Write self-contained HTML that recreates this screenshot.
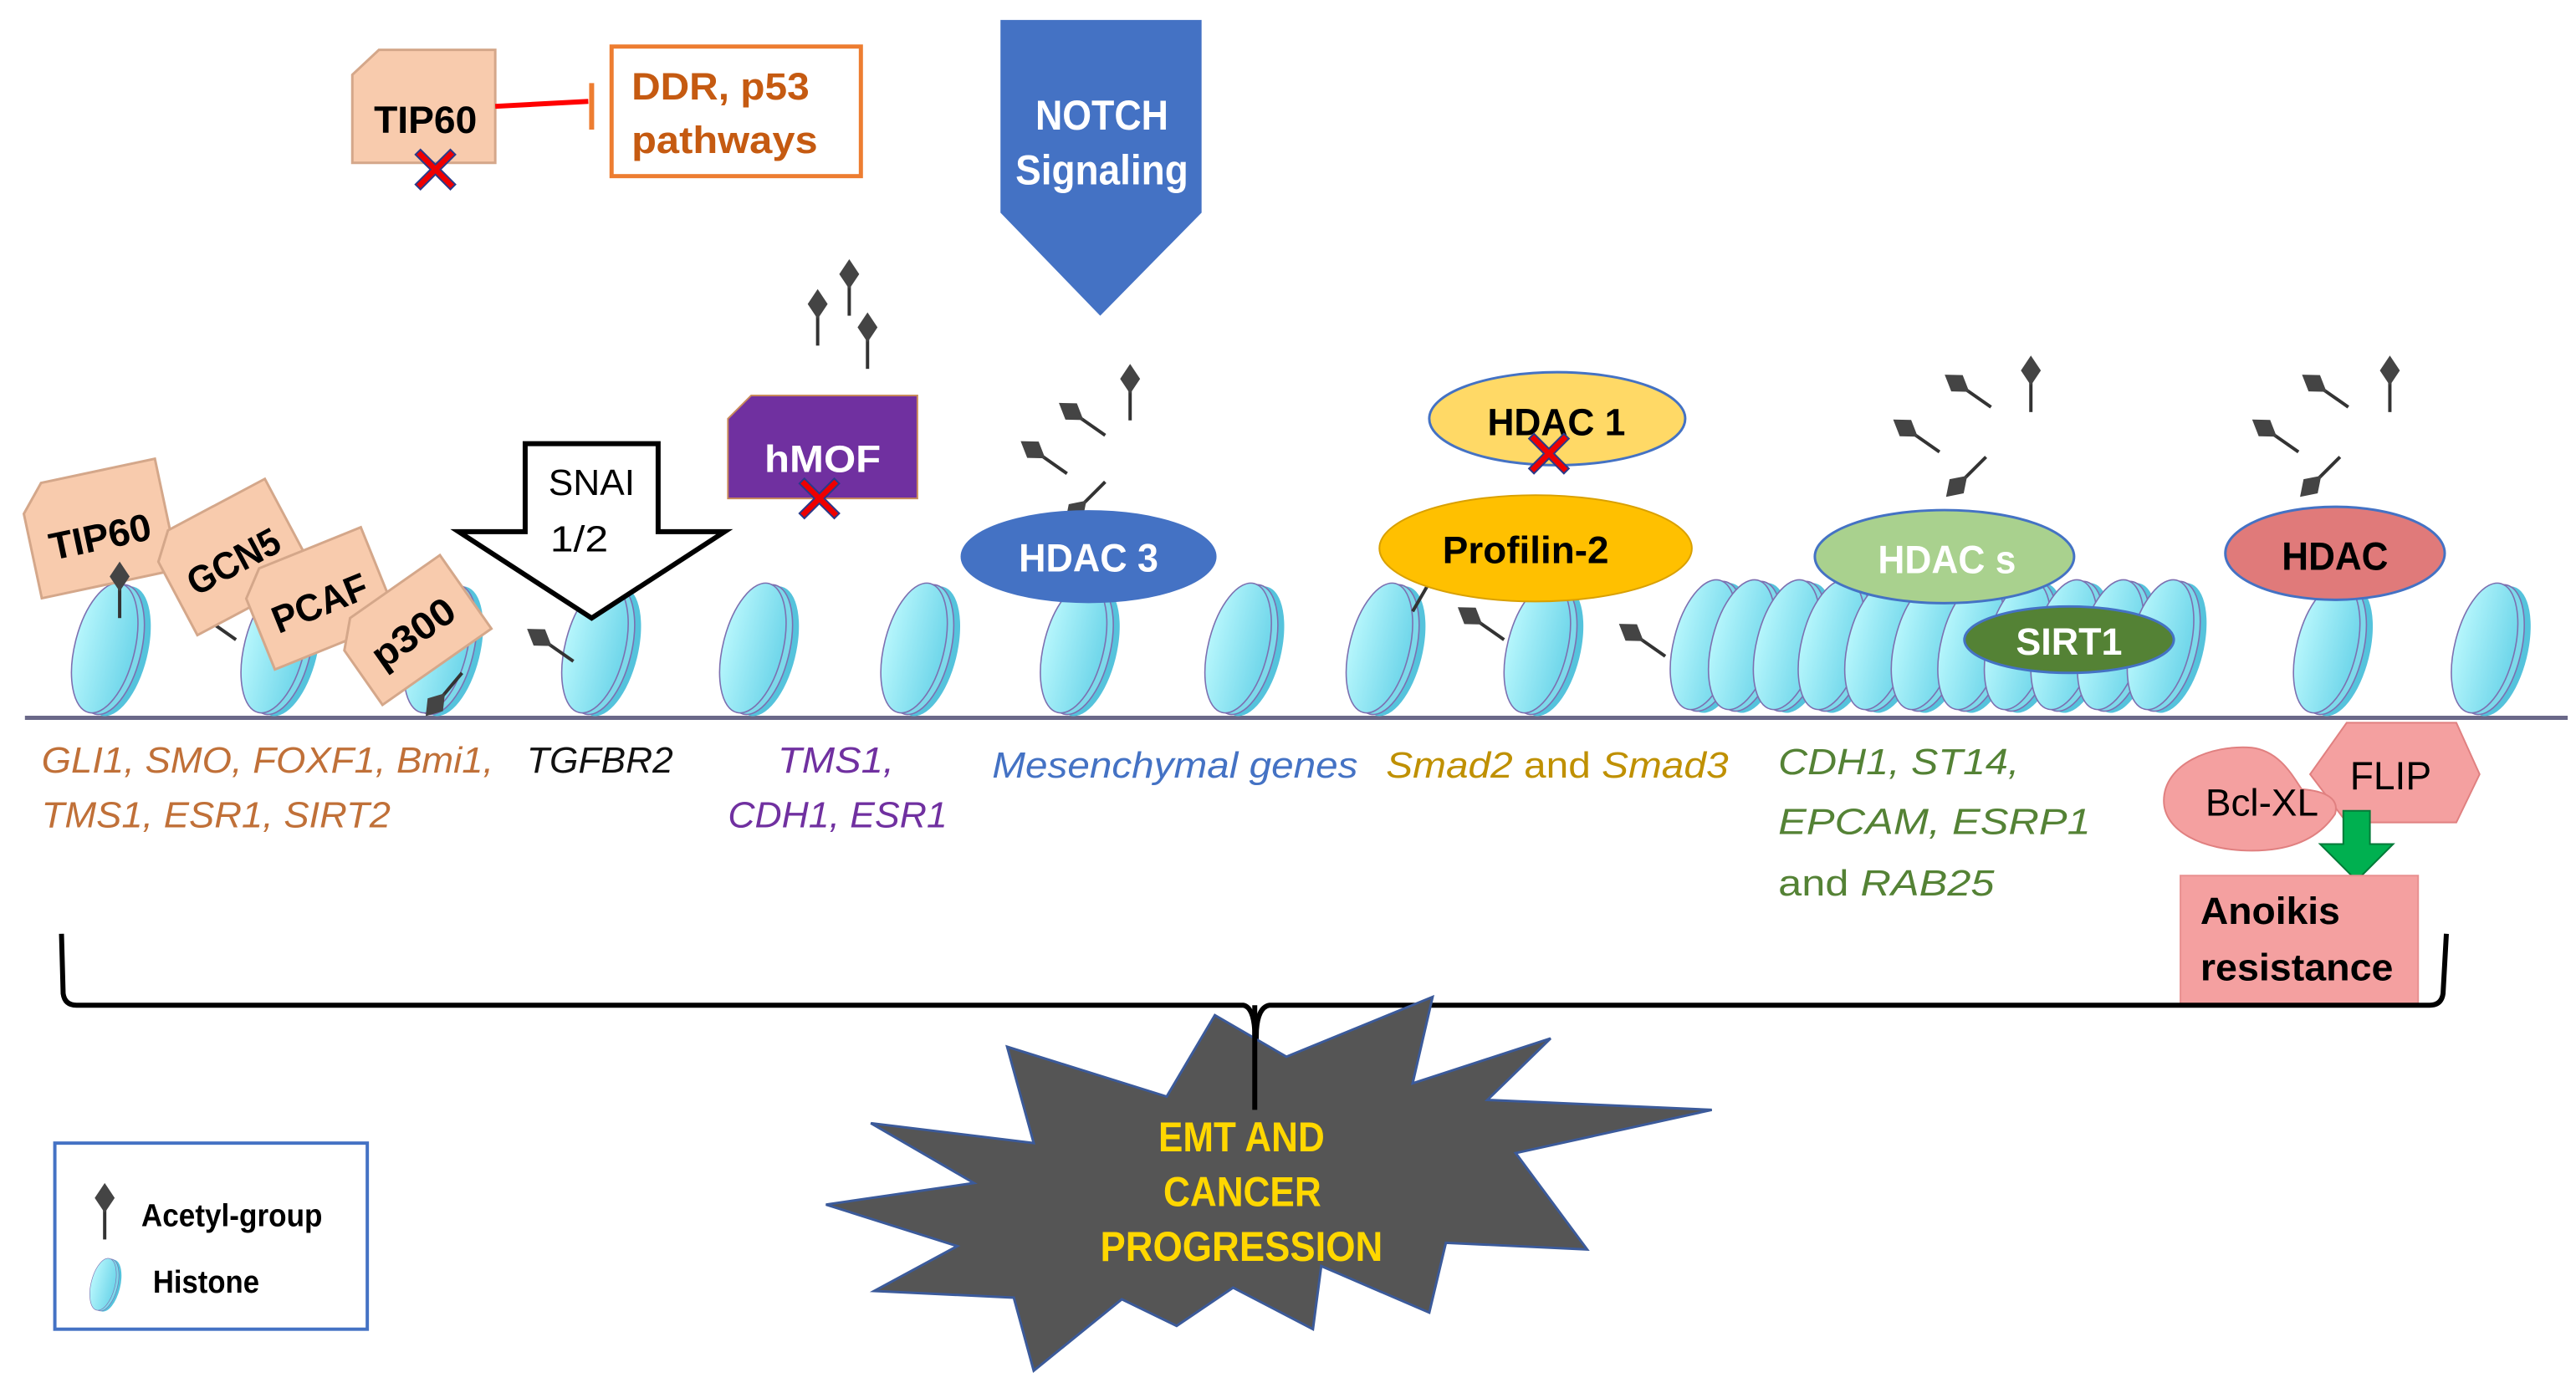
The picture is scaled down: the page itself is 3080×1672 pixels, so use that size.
<!DOCTYPE html>
<html><head><meta charset="utf-8"><style>
html,body{margin:0;padding:0;background:#fff}
svg{display:block}
text{font-family:"Liberation Sans",sans-serif}
.b{font-weight:bold}
.it{font-style:italic}
</style></head><body>
<svg width="3080" height="1672" viewBox="0 0 1550 841.4" xmlns="http://www.w3.org/2000/svg">
<defs>
<linearGradient id="hg" x1="0" y1="0" x2="1" y2="0">
<stop offset="0" stop-color="#b6f6fc"/><stop offset="1" stop-color="#6fd6ea"/></linearGradient>
<g id="hist">
<g transform="rotate(14)">
<ellipse cx="8" cy="0" rx="18" ry="40" fill="#55c3dc"/>
<ellipse cx="4" cy="0" rx="18" ry="40" fill="#7dd9ea" stroke="#7c6fb0" stroke-width="0.8"/>
<ellipse cx="0" cy="0" rx="18" ry="40" fill="url(#hg)" stroke="#7c6fb0" stroke-width="0.8"/>
</g></g>
<g id="ac">
<line x1="0" y1="0" x2="0" y2="-20" stroke="#333" stroke-width="2"/>
<path d="M0,-34 L6,-25 L0,-16 L-6,-25Z" fill="#444"/>
</g>
<g id="xx">
<path d="M-12,-9 L-9,-12 L0,-3 L9,-12 L12,-9 L3,0 L12,9 L9,12 L0,3 L-9,12 L-12,9 L-3,0Z" fill="#e00" stroke="#2a3a8a" stroke-width="1"/>
</g>
</defs>

<path d="M15,432 L1545,432" stroke="#6a6888" stroke-width="2.5" fill="none"/>

<use href="#hist" x="63" y="390"/>
<use href="#hist" x="165" y="390"/>
<use href="#hist" x="263" y="390"/>
<use href="#hist" x="358" y="390"/>
<use href="#hist" x="453" y="390"/>
<use href="#hist" x="550" y="390"/>
<use href="#hist" x="646" y="390"/>
<use href="#hist" x="745" y="390"/>
<use href="#hist" x="830" y="390"/>
<use href="#hist" x="925" y="390"/>
<use href="#hist" x="1025" y="388"/>
<use href="#hist" x="1048" y="388"/>
<use href="#hist" x="1075" y="388"/>
<use href="#hist" x="1102" y="388"/>
<use href="#hist" x="1130" y="388"/>
<use href="#hist" x="1158" y="388"/>
<use href="#hist" x="1186" y="388"/>
<use href="#hist" x="1214" y="388"/>
<use href="#hist" x="1242" y="388"/>
<use href="#hist" x="1270" y="388"/>
<use href="#hist" x="1300" y="388"/>
<use href="#hist" x="1400" y="390"/>
<use href="#hist" x="1495" y="390"/>

<path d="M228,30 L298,30 L298,98 L212,98 L212,45Z" fill="#f8cbad" stroke="#d4a78a" stroke-width="1.5"/>
<text x="225" y="80" font-size="23" class="b" textLength="62" lengthAdjust="spacingAndGlyphs">TIP60</text>
<use href="#xx" x="262" y="102"/>
<line x1="298" y1="64" x2="354" y2="61" stroke="#f00" stroke-width="3"/>
<line x1="356" y1="50" x2="356" y2="78" stroke="#ed7d31" stroke-width="3"/>
<rect x="368" y="28" width="150" height="78" fill="#fff" stroke="#ed7d31" stroke-width="2.5"/>
<text x="380" y="60" font-size="23" class="b" fill="#c55a11" textLength="107" lengthAdjust="spacingAndGlyphs">DDR, p53</text>
<text x="380" y="92" font-size="23" class="b" fill="#c55a11" textLength="112" lengthAdjust="spacingAndGlyphs">pathways</text>

<path d="M602,12 L723,12 L723,128 L662,190 L602,128Z" fill="#4472c4"/>
<text x="623" y="78" font-size="25" class="b" fill="#fff" textLength="80" lengthAdjust="spacingAndGlyphs">NOTCH</text>
<text x="611" y="111" font-size="25" class="b" fill="#fff" textLength="104" lengthAdjust="spacingAndGlyphs">Signaling</text>

<use href="#ac" x="492" y="208"/>
<use href="#ac" x="511" y="190"/>
<use href="#ac" x="522" y="222"/>
<use href="#ac" x="680" y="253" />
<use href="#ac" transform="translate(665,262) rotate(-55)"/>
<use href="#ac" transform="translate(642,285) rotate(-55)"/>
<use href="#ac" transform="translate(665,290) rotate(-135)"/>
<use href="#ac" x="1222" y="248"/>
<use href="#ac" transform="translate(1198,245) rotate(-55)"/>
<use href="#ac" transform="translate(1167,272) rotate(-55)"/>
<use href="#ac" transform="translate(1195,275) rotate(-135)"/>
<use href="#ac" x="1438" y="248"/>
<use href="#ac" transform="translate(1413,245) rotate(-55)"/>
<use href="#ac" transform="translate(1383,272) rotate(-55)"/>
<use href="#ac" transform="translate(1408,275) rotate(-135)"/>
<use href="#ac" transform="translate(142,385) rotate(-55)"/>
<use href="#ac" transform="translate(345,398) rotate(-55)"/>
<use href="#ac" transform="translate(278,405) rotate(-140)"/>
<use href="#ac" transform="translate(905,385) rotate(-55)"/>
<use href="#ac" transform="translate(1002,395) rotate(-55)"/>
<use href="#ac" transform="translate(850,368) rotate(30)"/>

<g transform="translate(60,322) rotate(-12)">
<path d="M-28,-38 L42,-38 L42,30 L-42,30 L-42,-22Z" fill="#f8cbad" stroke="#d4a78a" stroke-width="1.5"/>
<text x="-31" y="9" font-size="23" class="b" textLength="62" lengthAdjust="spacingAndGlyphs">TIP60</text></g>
<g transform="translate(140,337) rotate(-28)">
<path d="M-26,-34 L40,-34 L40,30 L-40,30 L-40,-20Z" fill="#f8cbad" stroke="#d4a78a" stroke-width="1.5"/>
<text x="-30" y="9" font-size="23" class="b" textLength="60" lengthAdjust="spacingAndGlyphs">GCN5</text></g>
<g transform="translate(192,362) rotate(-22)">
<path d="M-26,-32 L40,-32 L40,28 L-40,28 L-40,-18Z" fill="#f8cbad" stroke="#d4a78a" stroke-width="1.5"/>
<text x="-30" y="9" font-size="23" class="b" textLength="60" lengthAdjust="spacingAndGlyphs">PCAF</text></g>
<g transform="translate(248,380) rotate(-35)">
<path d="M-26,-28 L40,-28 L40,26 L-40,26 L-40,-14Z" fill="#f8cbad" stroke="#d4a78a" stroke-width="1.5"/>
<text x="-28" y="9" font-size="23" class="b" textLength="56" lengthAdjust="spacingAndGlyphs">p300</text></g>
<use href="#ac" x="72" y="372"/>

<path d="M316,267 L396,267 L396,320 L436,320 L356,372 L276,320 L316,320Z" fill="#fff" stroke="#000" stroke-width="3"/>
<text x="330" y="298" font-size="22" textLength="52" lengthAdjust="spacingAndGlyphs">SNAI</text>
<text x="331" y="332" font-size="22" textLength="35" lengthAdjust="spacingAndGlyphs">1/2</text>

<path d="M452,238 L552,238 L552,300 L438,300 L438,252Z" fill="#7030a0" stroke="#c98a5a" stroke-width="1"/>
<text x="460" y="284" font-size="23" class="b" fill="#fff" textLength="70" lengthAdjust="spacingAndGlyphs">hMOF</text>
<use href="#xx" x="493" y="300"/>

<ellipse cx="655" cy="335" rx="77" ry="28" fill="#4472c4"/>
<text x="613" y="344" font-size="24" class="b" fill="#fff" textLength="84" lengthAdjust="spacingAndGlyphs">HDAC 3</text>
<ellipse cx="924" cy="330" rx="94" ry="32" fill="#ffc000" stroke="#d9a000" stroke-width="1"/>
<text x="868" y="339" font-size="23" class="b" textLength="100" lengthAdjust="spacingAndGlyphs">Profilin-2</text>
<ellipse cx="937" cy="252" rx="77" ry="28" fill="#ffd966" stroke="#4472c4" stroke-width="1.5"/>
<text x="895" y="262" font-size="23" class="b" textLength="83" lengthAdjust="spacingAndGlyphs">HDAC 1</text>
<use href="#xx" x="932" y="273"/>
<ellipse cx="1170" cy="335" rx="78" ry="28" fill="#a9d18e" stroke="#4472c4" stroke-width="1.5"/>
<text x="1130" y="345" font-size="24" class="b" fill="#fff" textLength="83" lengthAdjust="spacingAndGlyphs">HDAC s</text>
<ellipse cx="1245" cy="385" rx="63" ry="20" fill="#548235" stroke="#4472c4" stroke-width="1.5"/>
<text x="1213" y="394" font-size="23" class="b" fill="#fff" textLength="64" lengthAdjust="spacingAndGlyphs">SIRT1</text>
<ellipse cx="1405" cy="333" rx="66" ry="28" fill="#e07a7a" stroke="#4472c4" stroke-width="1.5"/>
<text x="1373" y="343" font-size="24" class="b" textLength="64" lengthAdjust="spacingAndGlyphs">HDAC</text>

<g font-size="22" class="it">
<text x="25" y="465" fill="#c07038" textLength="272" lengthAdjust="spacingAndGlyphs">GLI1, SMO, FOXF1, Bmi1,</text>
<text x="25" y="498" fill="#c07038" textLength="210" lengthAdjust="spacingAndGlyphs">TMS1, ESR1, SIRT2</text>
<text x="317" y="465" fill="#111" textLength="88" lengthAdjust="spacingAndGlyphs">TGFBR2</text>
<text x="468" y="465" fill="#7030a0" textLength="70" lengthAdjust="spacingAndGlyphs">TMS1,</text>
<text x="438" y="498" fill="#7030a0" textLength="132" lengthAdjust="spacingAndGlyphs">CDH1, ESR1</text>
<text x="597" y="468" fill="#4472c4" textLength="220" lengthAdjust="spacingAndGlyphs">Mesenchymal genes</text>
<text x="834" y="468" fill="#bf9000" textLength="206" lengthAdjust="spacingAndGlyphs">Smad2 <tspan font-style="normal">and</tspan> Smad3</text>
<text x="1070" y="466" fill="#548235" textLength="145" lengthAdjust="spacingAndGlyphs">CDH1, ST14,</text>
<text x="1070" y="502" fill="#548235" textLength="188" lengthAdjust="spacingAndGlyphs">EPCAM, ESRP1</text>
<text x="1070" y="539" fill="#548235" textLength="130" lengthAdjust="spacingAndGlyphs"><tspan font-style="normal">and</tspan> RAB25</text>
</g>

<path d="M1412,435 L1478,435 L1492,466 L1478,495 L1412,495 L1390,466Z" fill="#f4a0a0" stroke="#e08080" stroke-width="1"/>
<text x="1414" y="475" font-size="24" textLength="49" lengthAdjust="spacingAndGlyphs">FLIP</text>
<path d="M1302,482 C1302,460 1330,448 1355,450 C1372,452 1380,468 1385,475 C1398,476 1408,480 1405,490 C1395,505 1378,512 1355,512 C1325,512 1302,500 1302,482Z" fill="#f4a0a0" stroke="#e08080" stroke-width="1"/>
<text x="1327" y="491" font-size="23" textLength="68" lengthAdjust="spacingAndGlyphs">Bcl-XL</text>
<path d="M1410,488 L1426,488 L1426,508 L1440,508 L1418,530 L1396,508 L1410,508Z" fill="#00b050" stroke="#007a38" stroke-width="1"/>
<rect x="1312" y="527" width="143" height="78" fill="#f4a0a0" stroke="#e89090" stroke-width="1"/>
<text x="1324" y="556" font-size="23" class="b" textLength="84" lengthAdjust="spacingAndGlyphs">Anoikis</text>
<text x="1324" y="590" font-size="23" class="b" textLength="116" lengthAdjust="spacingAndGlyphs">resistance</text>

<path d="M37,562 L38,598 Q39,605 46,605 L748,605 Q754,606 755,620 L755,668 M755,668 L756,620 Q757,606 764,605 L1462,605 Q1469,605 1470,598 L1472,562" stroke="#000" stroke-width="3" fill="none"/>

<path d="M731,611 L774,636 L862,600 L850,652 L933,625 L895,662 L1030,668 L912,694 L955,752 L870,748 L860,790 L795,762 L790,800 L742,775 L708,798 L675,782 L622,825 L610,781 L526,777 L576,750 L497,725 L586,712 L524,676 L622,688 L606,630 L702,660Z" fill="#555" stroke="#3b5a9a" stroke-width="1.5"/>
<path d="M755,605 L755,668" stroke="#000" stroke-width="3"/>
<g font-size="25" class="b" fill="#ffd700">
<text x="697" y="693" textLength="100" lengthAdjust="spacingAndGlyphs">EMT AND</text>
<text x="700" y="726" textLength="95" lengthAdjust="spacingAndGlyphs">CANCER</text>
<text x="662" y="759" textLength="170" lengthAdjust="spacingAndGlyphs">PROGRESSION</text>
</g>

<rect x="33" y="688" width="188" height="112" fill="#fff" stroke="#4472c4" stroke-width="2"/>
<use href="#ac" x="63" y="746"/>
<text x="85" y="738" font-size="19" class="b" textLength="109" lengthAdjust="spacingAndGlyphs">Acetyl-group</text>
<g transform="translate(62,773) scale(0.4)"><use href="#hist"/></g>
<text x="92" y="778" font-size="19" class="b" textLength="64" lengthAdjust="spacingAndGlyphs">Histone</text>
</svg>
</body></html>
